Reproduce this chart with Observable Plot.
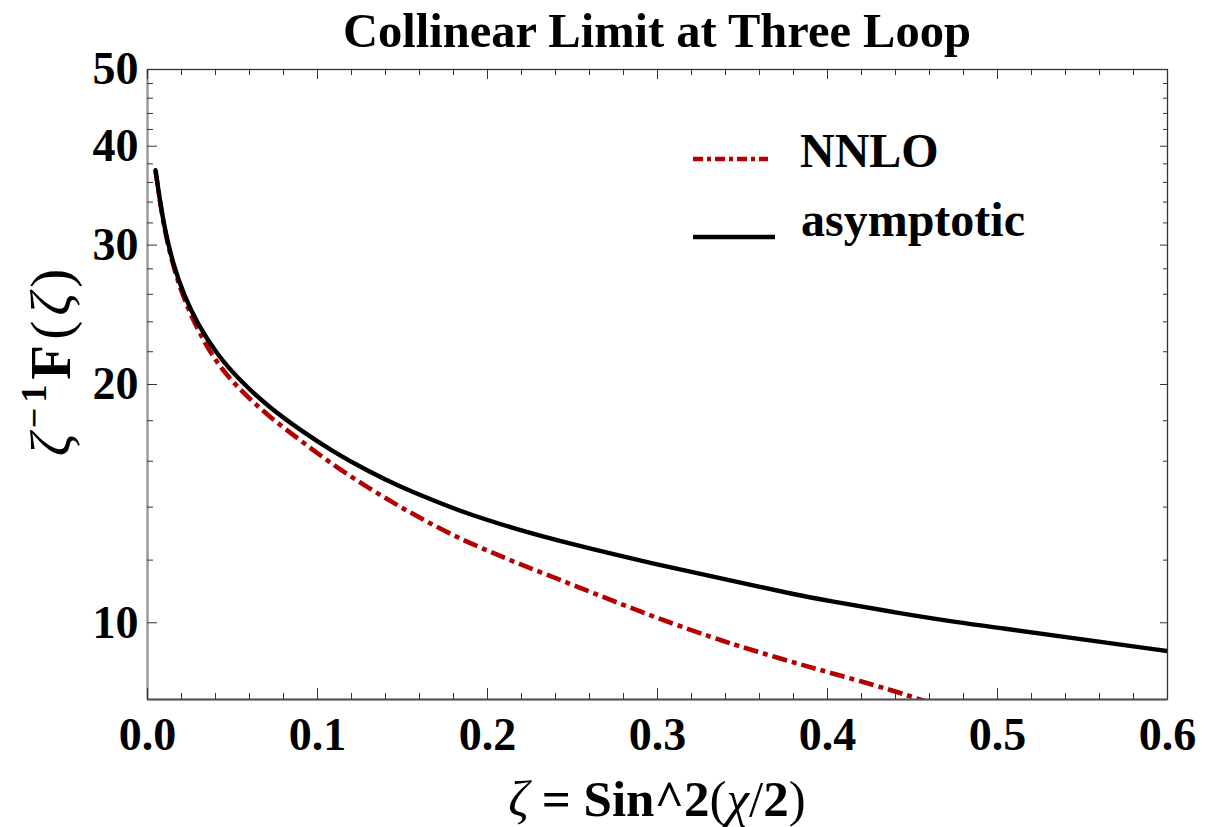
<!DOCTYPE html>
<html><head><meta charset="utf-8">
<script src="https://cdn.jsdelivr.net/npm/d3@7"></script>
<script src="https://cdn.jsdelivr.net/npm/@observablehq/plot@0.6"></script>
<style>
body{margin:0;background:#fff;}
#wrap{position:relative;width:1228px;height:827px;overflow:hidden;}
#title{height:53px;box-sizing:border-box;padding-top:9px;line-height:44px;padding-left:147px;width:1167px;text-align:center;font-family:"Liberation Serif","Times New Roman",serif;font-weight:bold;font-size:48.5px;color:#000;}
</style></head><body>
<div id="wrap"><div id="title">Collinear Limit at Three Loop</div><div id="chart"></div></div>
<script>
// ---- data ----
const xDomain = [0, 0.6];
const yDomain = [8, 50];
const xMajorTicks = [0, 0.1, 0.2, 0.3, 0.4, 0.5, 0.6];
const xMinorTicks = [0.02,0.04,0.06,0.08,0.12,0.14,0.16,0.18,0.22,0.24,0.26,0.28,0.32,0.34,0.36,0.38,0.42,0.44,0.46,0.48,0.52,0.54,0.56,0.58];
const yMajorTicks = [10, 20, 30, 40, 50];
const yMinorTicks = [12,14,16,18,22,24,26,28,32,34,36,38,42,44,46,48];

const zetaAsym = [0.0047,0.0096,0.0155,0.0214,0.0292,0.041,0.0547,0.0704,0.09,0.1096,0.1292,0.1488,0.1684,0.1881,0.2184,0.2488,0.2978,0.3429,0.3831,0.3998,0.439,0.4782,0.5,0.55,0.6];
const fAsym    = [37.3,31.6,28.2,25.95,23.9,21.8,20.2,18.8,17.5,16.43,15.57,14.84,14.27,13.73,13.1,12.58,11.87,11.31,10.83,10.67,10.31,10.0,9.86,9.53,9.21];

const zetaNNLO = [0.0047,0.0096,0.0155,0.0214,0.0292,0.041,0.0547,0.0704,0.09,0.1096,0.1292,0.1488,0.1684,0.1881,0.2184,0.2488,0.2978,0.3429,0.3606,0.3831,0.3998,0.439,0.4557,0.47];
const fNNLO    = [37.3,31.5,28.0,25.65,23.5,21.2,19.66,18.3,16.99,15.8,14.84,14.0,13.27,12.64,11.87,11.2,10.16,9.41,9.17,8.87,8.67,8.21,7.98,7.8];

const seriesNames = ["NNLO", "asymptotic"];

// ---- build ----
const fontFamily = '"Liberation Serif", "Times New Roman", serif';
const asym = zetaAsym.map((z, i) => ({zeta: z, F: fAsym[i]}));
const nnlo = zetaNNLO.map((z, i) => ({zeta: z, F: fNNLO[i]}));
const red = "#b30000";
const tickColor = "#333";

const noText = () => "";
const plot = Plot.plot({
  width: 1228, height: 774,
  marginLeft: 147, marginRight: 61, marginTop: 16, marginBottom: 128,
  x: {domain: xDomain},
  y: {type: "log", domain: yDomain},
  style: {fontFamily, background: "white", overflow: "visible", color: "black"},
  marks: [
    Plot.line(nnlo, {x: "zeta", y: "F", stroke: red, strokeWidth: 4.6, strokeDasharray: "15,5,5,5", strokeLinecap: "butt", strokeLinejoin: "miter", curve: "basis", clip: true}),
    Plot.line(asym, {x: "zeta", y: "F", stroke: "black", strokeWidth: 4.4, curve: "basis", clip: true}),
    Plot.frame({stroke: "#333", strokeWidth: 1.3}),
    Plot.ruleX([xDomain[0]], {stroke: "#999", strokeWidth: 2.2}),
    Plot.ruleY([yDomain[0]], {stroke: "#555", strokeWidth: 1.8}),
    // inward ticks, bottom/top
    Plot.axisX(xMajorTicks, {anchor: "bottom", tickSize: 11, dy: -11, tickFormat: noText, label: null, stroke: tickColor}),
    Plot.axisX(xMinorTicks, {anchor: "bottom", tickSize: 6, dy: -6, tickFormat: noText, label: null, stroke: tickColor}),
    Plot.axisX(xMajorTicks, {anchor: "top", tickSize: 9, dy: 9, tickFormat: noText, label: null, stroke: tickColor}),
    Plot.axisX(xMinorTicks, {anchor: "top", tickSize: 5, dy: 5, tickFormat: noText, label: null, stroke: tickColor}),
    // inward ticks, left/right
    Plot.axisY(yMajorTicks, {anchor: "left", tickSize: 10, dx: 10, tickFormat: noText, label: null, stroke: tickColor}),
    Plot.axisY(yMinorTicks, {anchor: "left", tickSize: 6, dx: 6, tickFormat: noText, label: null, stroke: tickColor}),
    Plot.axisY(yMajorTicks, {anchor: "right", tickSize: 8, dx: -8, tickFormat: noText, label: null, stroke: tickColor}),
    Plot.axisY(yMinorTicks, {anchor: "right", tickSize: 5, dx: -5, tickFormat: noText, label: null, stroke: tickColor}),
    // tick labels
    Plot.axisX(xMajorTicks, {anchor: "bottom", tickSize: 0, tickPadding: 18, tickFormat: d3.format(".1f"), fontSize: 46, fontWeight: "bold", fill: "black", label: null}),
    Plot.axisY(yMajorTicks, {anchor: "left", tickSize: 0, tickPadding: 9, tickFormat: d => String(d), fontSize: 46, fontWeight: "bold", fill: "black", label: null})
  ]
});
document.getElementById("chart").appendChild(plot);

const svg = d3.select(plot);
// y-axis label
const yl = svg.append("text")
  .attr("transform", "translate(70,307) rotate(-90)")
  .attr("text-anchor", "middle").attr("font-size", 57).attr("font-family", fontFamily)
  .attr("letter-spacing", 5)
  .attr("fill", "black").style("white-space", "pre");
yl.append("tspan").attr("font-style", "italic").text("ζ");
yl.append("tspan").attr("font-weight", "bold").attr("font-size", 36).attr("dy", -24).text("−1");
yl.append("tspan").attr("font-weight", "bold").attr("dy", 24).text("F");
yl.append("tspan").text("(");
yl.append("tspan").attr("font-style", "italic").text("ζ");
yl.append("tspan").text(")");

// x-axis label
const xl = svg.append("text")
  .attr("x", 657).attr("y", 763)
  .attr("text-anchor", "middle").attr("font-size", 51).attr("font-family", fontFamily)
  .attr("fill", "black").style("white-space", "pre");
xl.append("tspan").attr("font-style", "italic").text("ζ");
xl.append("tspan").attr("font-weight", "bold").text(" = ");
xl.append("tspan").attr("font-weight", "bold").text("Sin^2");
xl.append("tspan").text("(");
xl.append("tspan").attr("font-style", "italic").text("χ");
xl.append("tspan").text("/");
xl.append("tspan").attr("font-weight", "bold").text("2");
xl.append("tspan").text(")");

// legend (inside plot area)
const lg = svg.append("g").attr("font-family", fontFamily).attr("font-size", 48).attr("font-weight", "bold").attr("text-anchor", "start");
lg.append("line").attr("x1", 693).attr("x2", 768).attr("y1", 106).attr("y2", 106)
  .attr("stroke", red).attr("stroke-width", 4.5).attr("stroke-dasharray", "10,4,4,4");
lg.append("text").attr("x", 800).attr("y", 114).attr("text-anchor", "start").text(seriesNames[0]);
lg.append("line").attr("x1", 693).attr("x2", 775).attr("y1", 184).attr("y2", 184)
  .attr("stroke", "black").attr("stroke-width", 4.5);
lg.append("text").attr("x", 801).attr("y", 183).attr("text-anchor", "start").text(seriesNames[1]);
</script>
</body></html>
